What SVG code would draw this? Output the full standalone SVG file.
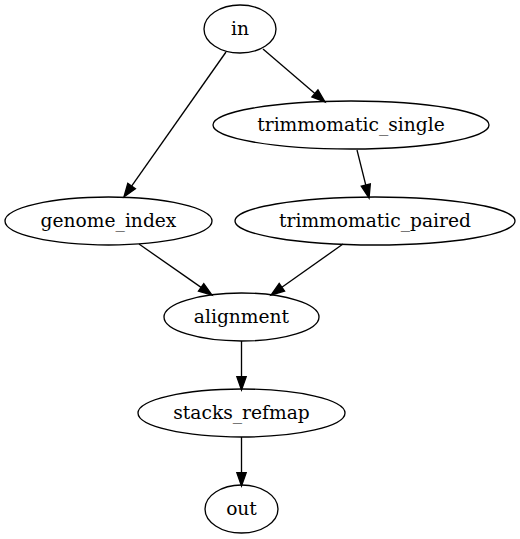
<svg xmlns="http://www.w3.org/2000/svg" width="520" height="539" viewBox="0 0 520 539">
<style>
.node ellipse{fill:none;stroke:#000;stroke-width:1.33}
.node text{font-family:"DejaVu Serif","Liberation Serif",serif;font-size:18.67px;text-anchor:middle;fill:#000}
#edges line{stroke:#000;stroke-width:1.33}
</style>
<defs>
<marker id="arr" markerUnits="userSpaceOnUse" markerWidth="16" markerHeight="12" refX="0" refY="4.67" orient="auto" overflow="visible">
<path d="M0,0 L13.3,4.67 L0,9.33 z" fill="#000" stroke="#000" stroke-width="1.33"/>
</marker>
</defs>
<rect width="520" height="539" fill="#fff"/>
<g id="edges">
<line x1="226" y1="52" x2="131.6" y2="186.1" marker-end="url(#arr)"/>
<line x1="263" y1="49" x2="314.9" y2="93.4" marker-end="url(#arr)"/>
<line x1="357" y1="150" x2="365.8" y2="185.1" marker-end="url(#arr)"/>
<line x1="139" y1="244" x2="201.1" y2="287.4" marker-end="url(#arr)"/>
<line x1="343" y1="244" x2="281.9" y2="287.3" marker-end="url(#arr)"/>
<line x1="241.5" y1="341" x2="241.5" y2="376.7" marker-end="url(#arr)"/>
<line x1="241.5" y1="437" x2="241.5" y2="472.7" marker-end="url(#arr)"/>
</g>
<g id="node-in" class="node"><ellipse cx="240" cy="29" rx="36" ry="24"/><text x="240" y="34.5">in</text></g>
<g id="node-trimmomatic_single" class="node"><ellipse cx="351" cy="125" rx="138" ry="24"/><text x="351" y="130.5">trimmomatic_single</text></g>
<g id="node-genome_index" class="node"><ellipse cx="108.5" cy="221" rx="103.5" ry="24"/><text x="108.5" y="226.5">genome_index</text></g>
<g id="node-trimmomatic_paired" class="node"><ellipse cx="375" cy="221" rx="140" ry="24"/><text x="375" y="226.5">trimmomatic_paired</text></g>
<g id="node-alignment" class="node"><ellipse cx="241.5" cy="317" rx="77.5" ry="24"/><text x="241.5" y="322.5">alignment</text></g>
<g id="node-stacks_refmap" class="node"><ellipse cx="241.5" cy="413" rx="103.5" ry="24"/><text x="241.5" y="418.5">stacks_refmap</text></g>
<g id="node-out" class="node"><ellipse cx="241.5" cy="509" rx="36.5" ry="24"/><text x="241.5" y="514.5">out</text></g>
</svg>
